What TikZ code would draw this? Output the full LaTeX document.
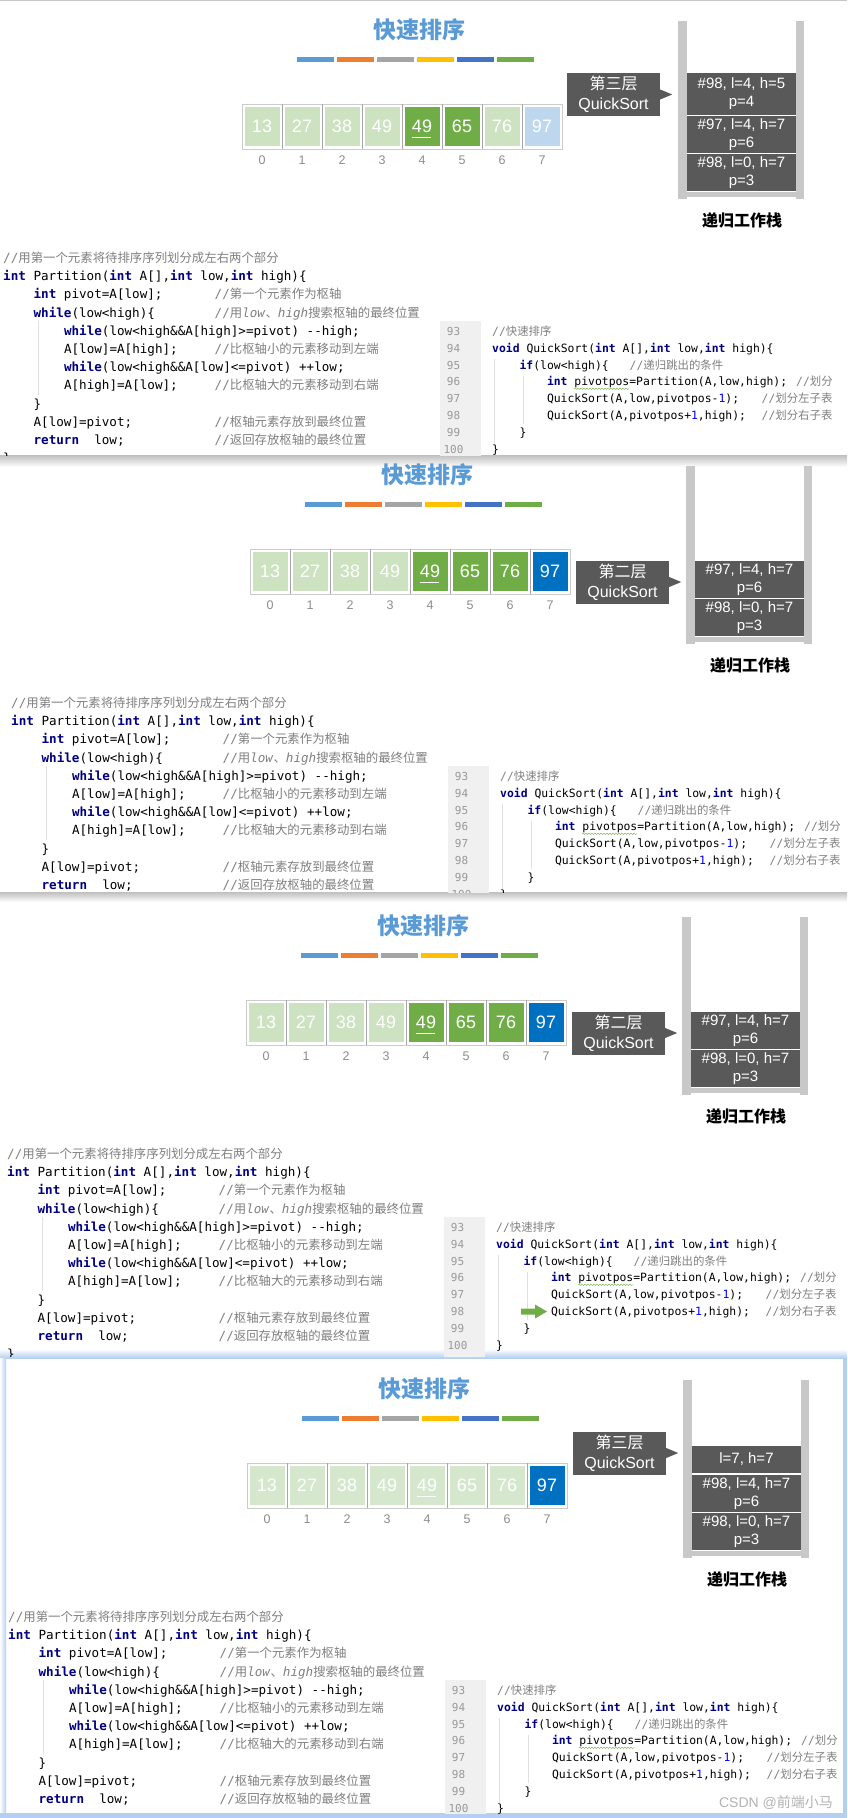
\documentclass[tikz,border=0pt]{standalone}
\usepackage{fontspec}
\setmainfont{Liberation Sans}
\newfontfamily\zhfont{Noto Sans CJK SC}
\newfontfamily\monofont{DejaVu Sans Mono}
\usetikzlibrary{positioning,decorations.pathmorphing}

\definecolor{titleblue}{HTML}{5B9BD5}
\definecolor{bar1}{HTML}{5B9BD5}
\definecolor{bar2}{HTML}{ED7D31}
\definecolor{bar3}{HTML}{A5A5A5}
\definecolor{bar4}{HTML}{FFC000}
\definecolor{bar5}{HTML}{4472C4}
\definecolor{bar6}{HTML}{70AD47}
\definecolor{pale}{HTML}{CDE2C1}
\definecolor{fade}{HTML}{D5E8CE}
\definecolor{leaf}{HTML}{70AD47}
\definecolor{skyblue}{HTML}{BDD7EE}
\definecolor{deepblue}{HTML}{0070C0}
\definecolor{boxgray}{HTML}{595959}
\definecolor{pillargray}{HTML}{C8C8C8}
\definecolor{idxgray}{HTML}{8C8C8C}
\definecolor{kwblue}{HTML}{000080}
\definecolor{cmgray}{HTML}{808080}
\definecolor{numblue}{HTML}{0000FF}
\definecolor{guttergray}{HTML}{F0F0F0}
\definecolor{linegray}{HTML}{999999}
\definecolor{edgeblue}{HTML}{B4D0F0}

\newcommand\kw[1]{\textcolor{kwblue}{\bfseries #1}}
\newcommand\cm[1]{\textcolor{cmgray}{#1}}
\newcommand\nb[1]{\textcolor{numblue}{#1}}
\newcommand\zl[1]{{\zhfont\fontsize{12.4}{15}\selectfont #1}}
\newcommand\zr[1]{{\zhfont\fontsize{11.4}{14}\selectfont #1}}
\newif\iflastbrace \lastbracetrue

\tikzset{
  titletext/.style={inner sep=0pt,text=titleblue,font=\zhfont\bfseries\fontsize{23}{26}\selectfont},
  cellbox/.style={minimum width=35pt,minimum height=39pt,inner sep=0pt,text=white,font=\fontsize{18}{20}\selectfont},
  idxlabel/.style={inner sep=0pt,text=idxgray,font=\fontsize{12.5}{14}\selectfont},
  tagbox/.style={fill=boxgray,minimum width=93pt,minimum height=43pt,inner sep=0pt,text=white,align=center,font=\fontsize{16}{20}\selectfont},
  stackbox/.style={fill=boxgray,minimum width=109pt,inner sep=0pt,text=white,align=center,font=\fontsize{15}{18}\selectfont},
  stacklabel/.style={inner sep=0pt,font=\zhfont\bfseries\fontsize{16}{18}\selectfont},
  lcode/.style={anchor=base west,inner sep=0pt,font=\monofont\fontsize{12.6}{15}\selectfont},
  rcode/.style={anchor=base west,inner sep=0pt,font=\monofont\fontsize{11.4}{14}\selectfont},
  lineno/.style={anchor=base,inner sep=0pt,text=linegray,font=\monofont\fontsize{11}{14}\selectfont},
  guide/.style={draw=black!12,line width=0.6pt},
  wmark/.style={inner sep=0pt,text=black!30,font=\fontsize{14}{16}\selectfont}
}

% Partition code, left half of each panel
\newcommand\leftcode{%
  \draw[guide] (-204,217) -- (-204,291);
  \node[lcode] (l0) at (-239,158.4) {\cm{//\zl{用第一个元素将待排序序列划分成左右两个部分}}};
  \node[lcode] (l1) at (-239,176.6) {\kw{int} Partition(\kw{int} A[],\kw{int} low,\kw{int} high)\{};
  \node[lcode] (l2) at (-208.6,194.8) {\kw{int} pivot=A[low];};
  \node[lcode] (l2c) at (-27.5,194.8) {\cm{//\zl{第一个元素作为枢轴}}};
  \node[lcode] (l3) at (-208.6,213) {\kw{while}(low<high)\{};
  \node[lcode] (l3c) at (-27.5,213) {\cm{//\zl{用}\textit{low}\zl{、}\textit{high}\zl{搜索枢轴的最终位置}}};
  \node[lcode] (l4) at (-178.2,231.2) {\kw{while}(low<high\&\&A[high]>=pivot) -{}-high;};
  \node[lcode] (l5) at (-178.2,249.4) {A[low]=A[high];};
  \node[lcode] (l5c) at (-27.5,249.4) {\cm{//\zl{比枢轴小的元素移动到左端}}};
  \node[lcode] (l6) at (-178.2,267.6) {\kw{while}(low<high\&\&A[low]<=pivot) +{}+low;};
  \node[lcode] (l7) at (-178.2,285.8) {A[high]=A[low];};
  \node[lcode] (l7c) at (-27.5,285.8) {\cm{//\zl{比枢轴大的元素移动到右端}}};
  \node[lcode] (l8) at (-208.6,304) {\}};
  \node[lcode] (l9) at (-208.6,322.2) {A[low]=pivot;};
  \node[lcode] (l9c) at (-27.5,322.2) {\cm{//\zl{枢轴元素存放到最终位置}}};
  \node[lcode] (l10) at (-208.6,340.4) {\kw{return}\ \ low;};
  \node[lcode] (l10c) at (-27.5,340.4) {\cm{//\zl{返回存放枢轴的最终位置}}};
  \iflastbrace \node[lcode] (l11) at (-239,358.6) {\}}; \fi
}

% QuickSort code, right half of each panel
\newcommand\rightcode{%
  \fill[guttergray] (198,217) rectangle (239,362);
  \draw[guide] (252,255) -- (252,340);
  \draw[guide] (281,272) -- (281,320);
  \foreach \n [count=\j from 0] in {93,...,100}
    \node[lineno] (n\n) at (211.5,{231.5+16.8*\j}) {\n};
  \node[rcode] (r0) at (250,231.5) {\cm{//\zr{快速排序}}};
  \node[rcode] (r1) at (250,248.3) {\kw{void} QuickSort(\kw{int} A[],\kw{int} low,\kw{int} high)\{};
  \node[rcode] (r2) at (277.4,265.1) {\kw{if}(low<high)\{};
  \node[rcode] (r2c) at (387.5,265.1) {\cm{//\zr{递归跳出的条件}}};
  \node[rcode] (r3) at (304.8,281.9) {\kw{int} pivotpos=Partition(A,low,high);};
  \node[rcode] (r3c) at (554,281.9) {\cm{//\zr{划分}}};
  \draw[leaf,decorate,decoration={snake,amplitude=0.7pt,segment length=3pt}] (332,284.8) -- (387,284.8);
  \node[rcode] (r4) at (304.8,298.7) {QuickSort(A,low,pivotpos-\nb{1});};
  \node[rcode] (r4c) at (519.5,298.7) {\cm{//\zr{划分左子表}}};
  \node[rcode] (r5) at (304.8,315.5) {QuickSort(A,pivotpos+\nb{1},high);};
  \node[rcode] (r5c) at (519.5,315.5) {\cm{//\zr{划分右子表}}};
  \node[rcode] (r6) at (277.4,332.3) {\}};
  \node[rcode] (r7) at (250,349.1) {\}};
}

% title, colour bars, array frame, stack walls and the two code blocks
\newcommand\qsframe{%
  \node[titletext] (title) at (177,-74) {快速排序};
  \foreach \c [count=\i from 0] in {bar1,bar2,bar3,bar4,bar5,bar6}
    \fill[\c] ({55+40*\i},-47) rectangle ({92+40*\i},-42);
  \draw[black!20,line width=0.8pt] (0,0) rectangle (320,45);
  \foreach \i in {1,...,7}
    \draw[black!35,line width=0.6pt] (40*\i,0) -- (40*\i,45);
  \foreach \i in {0,...,7}
    \node[idxlabel] (i\i) at ({40*\i+20},56) {\i};
  \fill[pillargray] (436,-83) rectangle (445,95);
  \fill[pillargray] (554,-83) rectangle (562,95);
  \fill[pillargray] (445,88) rectangle (554,93);
  \node[stacklabel] (stk) at (500,116) {递归工作栈};
  \leftcode
  \rightcode
}

\begin{document}
\begin{tikzpicture}[x=1pt,y=-1pt]
\useasboundingbox (0,0) rectangle (847,1818);
\fill[white] (0,0) rectangle (847,1818);

% window edges between the four screenshots
\fill[black!22] (0,0) rectangle (847,1.2);
\shade[top color=black!25,bottom color=white] (0,455) rectangle (847,467);
\shade[top color=black!25,bottom color=white] (0,892) rectangle (847,902);
\shade[top color=white,bottom color=edgeblue] (0,1349) rectangle (847,1358);
\shade[left color=white,right color=edgeblue] (0,1358) rectangle (6,1818);
\fill[edgeblue] (843,1358) rectangle (847,1818);
\fill[edgeblue] (0,1813) rectangle (847,1818);

% panel 1
\begin{scope}
\clip (0,1.2) rectangle (847,455);
\begin{scope}[shift={(242,104)},name prefix=p1-]
\qsframe
\foreach \i/\v/\c in {0/13/pale,1/27/pale,2/38/pale,3/49/pale,4/49/leaf,5/65/leaf,6/76/pale,7/97/skyblue}
  \node[cellbox,fill=\c] (c\i) at ({40*\i+20},22.5) {\v};
\draw[white,line width=1pt] (170,33) -- (189,33);
\node[tagbox] (tag) at (371.5,-9.5) {{\zhfont 第三层}\\QuickSort};
\fill[boxgray] (tag.east) ++(0,-5) -- ++(12,5) -- ++(-12,5) -- cycle;
\node[stackbox,minimum height=42pt] (s3) at (499.5,-10) {\#98, l=4, h=5\\p=4};
\node[stackbox,minimum height=37pt] (s2) at (499.5,30.5) {\#97, l=4, h=7\\p=6};
\node[stackbox,minimum height=37pt] (s1) at (499.5,68.5) {\#98, l=0, h=7\\p=3};
\end{scope}
\end{scope}

% panel 2
\begin{scope}
\clip (0,457) rectangle (847,892);
\begin{scope}[shift={(250,549)},name prefix=p2-]
\qsframe
\foreach \i/\v/\c in {0/13/pale,1/27/pale,2/38/pale,3/49/pale,4/49/leaf,5/65/leaf,6/76/leaf,7/97/deepblue}
  \node[cellbox,fill=\c] (c\i) at ({40*\i+20},22.5) {\v};
\draw[white,line width=1pt] (170,33) -- (189,33);
\node[tagbox] (tag) at (372.5,33) {{\zhfont 第二层}\\QuickSort};
\fill[boxgray] (tag.east) ++(0,-5) -- ++(12,5) -- ++(-12,5) -- cycle;
\node[stackbox,minimum height=37pt] (s2) at (499.5,30.5) {\#97, l=4, h=7\\p=6};
\node[stackbox,minimum height=37pt] (s1) at (499.5,68.5) {\#98, l=0, h=7\\p=3};
\end{scope}
\end{scope}

% panel 3
\begin{scope}
\clip (0,894) rectangle (847,1356);
\begin{scope}[shift={(246,1000)},name prefix=p3-]
\qsframe
\foreach \i/\v/\c in {0/13/pale,1/27/pale,2/38/pale,3/49/pale,4/49/leaf,5/65/leaf,6/76/leaf,7/97/deepblue}
  \node[cellbox,fill=\c] (c\i) at ({40*\i+20},22.5) {\v};
\draw[white,line width=1pt] (170,33) -- (189,33);
\node[tagbox] (tag) at (372.5,33) {{\zhfont 第二层}\\QuickSort};
\fill[boxgray] (tag.east) ++(0,-5) -- ++(12,5) -- ++(-12,5) -- cycle;
\node[stackbox,minimum height=37pt] (s2) at (499.5,30.5) {\#97, l=4, h=7\\p=6};
\node[stackbox,minimum height=37pt] (s1) at (499.5,68.5) {\#98, l=0, h=7\\p=3};
% current line marker
\fill[leaf] (275,308.5) -- (289,308.5) -- (289,304.5) -- (301,311.5) -- (289,318.5) -- (289,314.5) -- (275,314.5) -- cycle;
\end{scope}
\end{scope}

% panel 4
\begin{scope}
\clip (0,1358) rectangle (843,1813);
\begin{scope}[shift={(247,1463)},name prefix=p4-]
\lastbracefalse
\qsframe
\foreach \i/\v/\c in {0/13/fade,1/27/fade,2/38/fade,3/49/fade,4/49/fade,5/65/fade,6/76/fade,7/97/deepblue}
  \node[cellbox,fill=\c] (c\i) at ({40*\i+20},22.5) {\v};
\draw[white,line width=1pt] (170,33) -- (189,33);
\node[tagbox] (tag) at (372.5,-10) {{\zhfont 第三层}\\QuickSort};
\fill[boxgray] (tag.east) ++(0,-5) -- ++(12,5) -- ++(-12,5) -- cycle;
\node[stackbox,minimum height=27pt] (s3) at (499.5,-3.5) {l=7, h=7};
\node[stackbox,minimum height=37pt] (s2) at (499.5,30.5) {\#98, l=4, h=7\\p=6};
\node[stackbox,minimum height=37pt] (s1) at (499.5,68.5) {\#98, l=0, h=7\\p=3};
\node[wmark] (wm) at (529,340) {CSDN @{\zhfont 前端小马}};
\end{scope}
\end{scope}
\end{tikzpicture}
\end{document}
